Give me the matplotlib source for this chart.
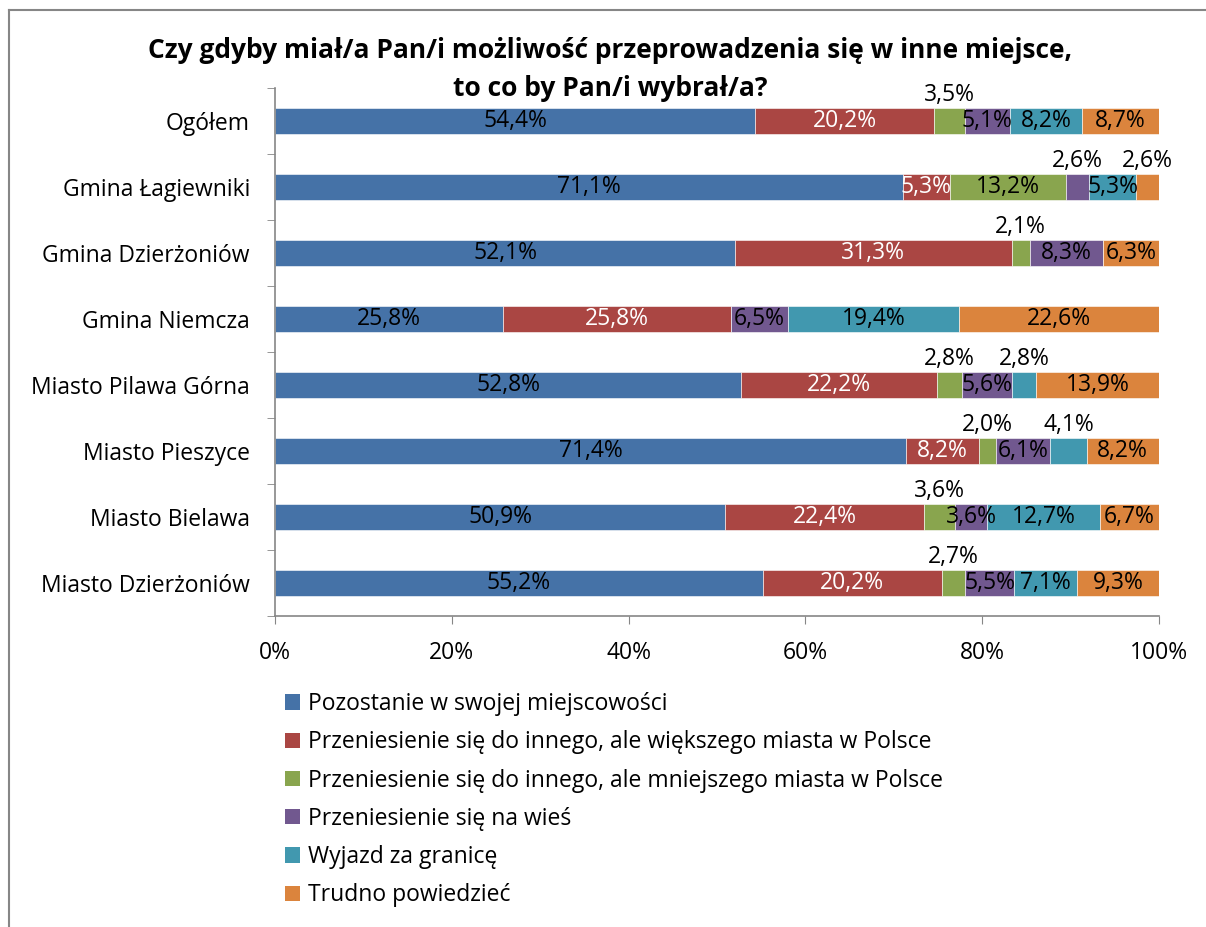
import matplotlib
matplotlib.use("Agg")
from matplotlib import pyplot as plt
from matplotlib.lines import Line2D
from matplotlib.patches import Patch
import numpy as np

plt.rcParams['font.family'] = ['Open Sans', 'DejaVu Sans']

categories = ["Ogółem", "Gmina Łagiewniki", "Gmina Dzierżoniów", "Gmina Niemcza",
              "Miasto Pilawa Górna", "Miasto Pieszyce", "Miasto Bielawa",
              "Miasto Dzierżoniów"]

series_names = ["Pozostanie w swojej miejscowości",
                "Przeniesienie się do innego, ale większego miasta w Polsce",
                "Przeniesienie się do innego, ale mniejszego miasta w Polsce",
                "Przeniesienie się na wieś",
                "Wyjazd za granicę",
                "Trudno powiedzieć"]

pozostanie = [54.4, 71.1, 52.1, 25.8, 52.8, 71.4, 50.9, 55.2]
wieksze    = [20.2, 5.3, 31.3, 25.8, 22.2, 8.2, 22.4, 20.2]
mniejsze   = [3.5, 13.2, 2.1, 0.0, 2.8, 2.0, 3.6, 2.7]
wies       = [5.1, 2.6, 8.3, 6.5, 5.6, 6.1, 3.6, 5.5]
granica    = [8.2, 5.3, 0.0, 19.4, 2.8, 4.1, 12.7, 7.1]
trudno     = [8.7, 2.6, 6.3, 22.6, 13.9, 8.2, 6.7, 9.3]

colors = ["#4572A7", "#AA4643", "#89A54E", "#71588F", "#4198AF", "#DB843D"]
text_colors = ["black", "white", "black", "black", "black", "black"]

# labels that sit above the bar instead of inside (row, series)
label_above = {(0, 2), (1, 3), (1, 5), (2, 2), (4, 2), (4, 4), (5, 2), (5, 4),
               (6, 2), (7, 2)}

data = np.array([pozostanie, wieksze, mniejsze, wies, granica, trudno])
shares = data / data.sum(axis=0) * 100

fig = plt.figure(figsize=(12.06, 9.27), dpi=100)
ax = fig.add_axes([275 / 1206, 1 - 616 / 927, (1159 - 275) / 1206, (616 - 88) / 927])

y = np.arange(len(categories))
left = np.zeros(len(categories))
for i in range(len(series_names)):
    ax.barh(y, shares[i], left=left, height=0.4, color=colors[i],
            edgecolor="white", linewidth=0.4)
    for j in range(len(categories)):
        v = data[i][j]
        if v <= 0:
            continue
        xc = left[j] + shares[i][j] / 2
        lab = f"{v:.1f}%".replace(".", ",")
        if (j, i) in label_above:
            ax.text(xc, y[j] - 0.39, lab, ha="center", va="center",
                    fontsize=16.5, color="black")
        else:
            ax.text(xc, y[j], lab, ha="center", va="center",
                    fontsize=16.5, color=text_colors[i])
    left += shares[i]

ax.set_xlim(0, 100)
ax.set_ylim(len(categories) - 0.5, -0.5)
ax.set_xticks(np.arange(0, 101, 20))
ax.set_xticklabels([f"{t}%" for t in range(0, 101, 20)])
ax.set_yticks(y)
ax.set_yticklabels(categories)
ax.set_yticks(np.arange(-0.5, len(categories), 1), minor=True)
ax.tick_params(axis="y", which="major", length=0, pad=18, labelsize=16.5)
ax.tick_params(axis="y", which="minor", length=6, color="#868686")
ax.tick_params(axis="x", which="major", length=6, color="#868686",
               labelsize=16.5, pad=12)
for s in ["top", "right"]:
    ax.spines[s].set_visible(False)
for s in ["left", "bottom"]:
    ax.spines[s].set_color("#868686")
    ax.spines[s].set_linewidth(1.2)

fig.text(0.506, 1 - 50 / 927, "Czy gdyby miał/a Pan/i możliwość przeprowadzenia się w inne miejsce,",
         ha="center", va="center", fontsize=19, fontweight="bold")
fig.text(0.506, 1 - 88 / 927, "to co by Pan/i wybrał/a?",
         ha="center", va="center", fontsize=19, fontweight="bold")

handles = [Patch(facecolor=c, edgecolor="none") for c in colors]
fig.legend(handles, series_names, loc="upper left",
           bbox_to_anchor=(276 / 1206, 1 - 683 / 927), frameon=False,
           fontsize=16.5, handlelength=0.65, handleheight=0.65,
           handletextpad=0.35, labelspacing=0.62, borderaxespad=0)

# chart frame
fig.add_artist(Line2D([9 / 1206, 9 / 1206], [0, 1 - 10 / 927], color="#868686", lw=1.5))
fig.add_artist(Line2D([9 / 1206, 1], [1 - 10 / 927, 1 - 10 / 927], color="#868686", lw=1.5))

fig.savefig("out.png", dpi=100)
